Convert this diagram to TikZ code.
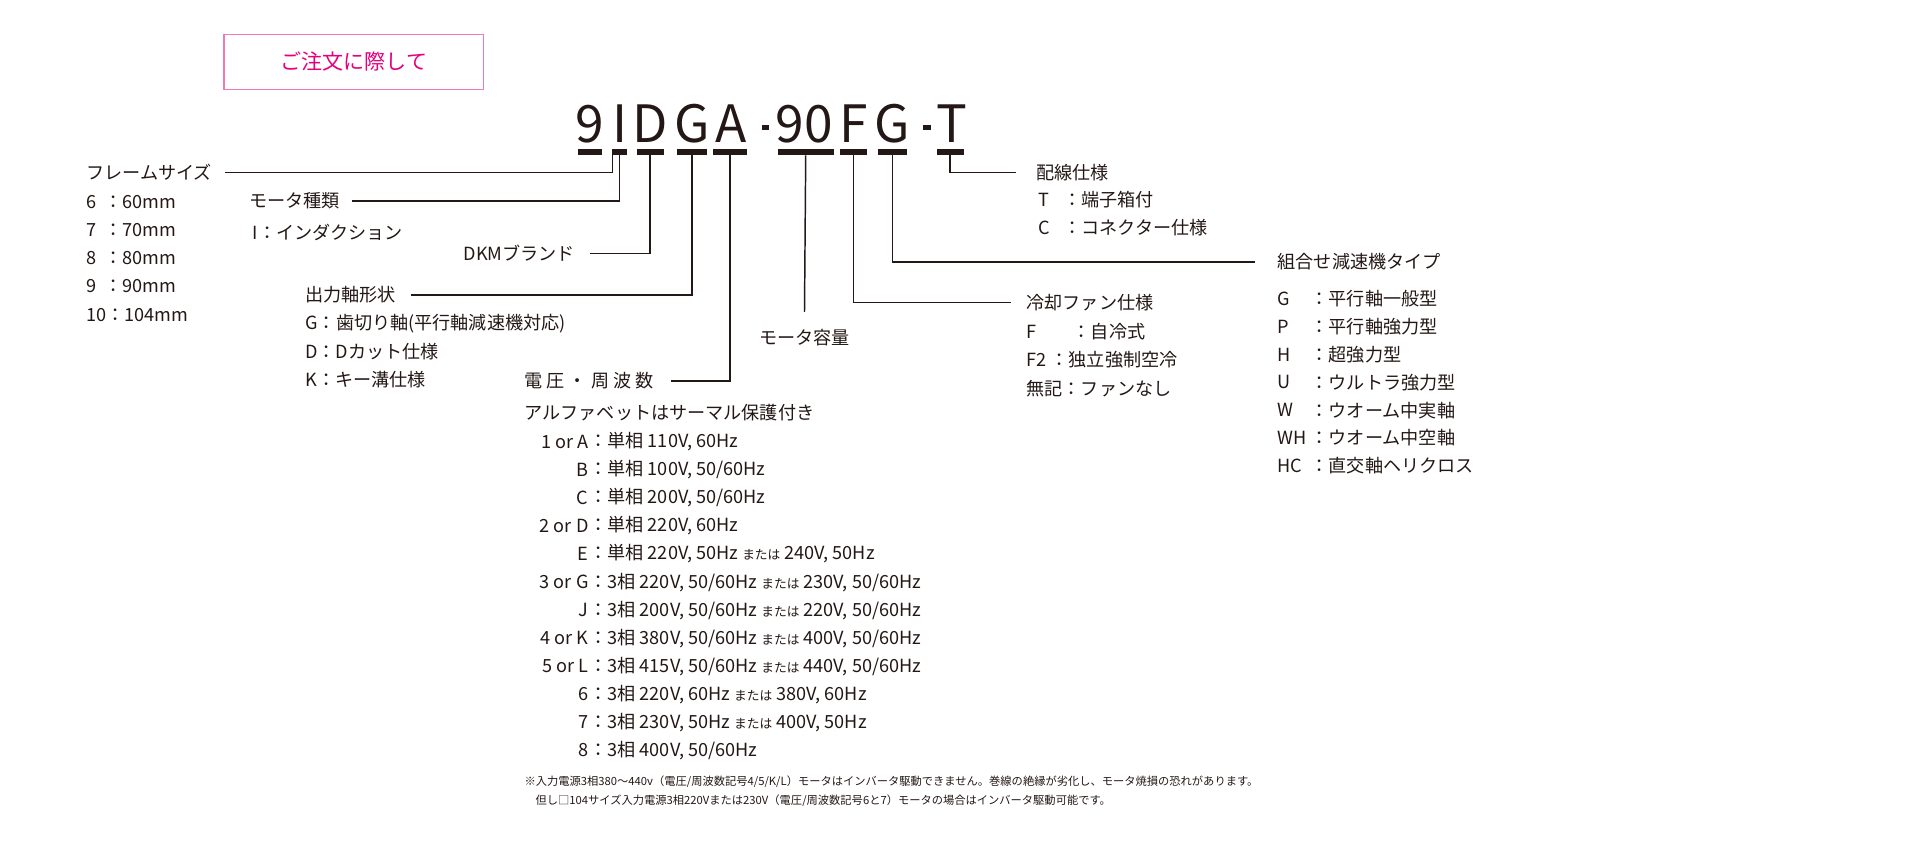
\documentclass[tikz,border=0pt]{standalone}
\usepackage{fontspec}
\setmainfont{Noto Sans CJK JP}
\usetikzlibrary{positioning}
\definecolor{ink}{HTML}{231815}
\definecolor{rose}{HTML}{E4007F}
\definecolor{roseline}{HTML}{F07AB8}
\tikzset{
  lbl/.style={anchor=west, inner sep=0pt, text=ink, font=\fontsize{7.4}{8}\selectfont},
  key/.style={anchor=east, inner sep=0pt, text=ink, font=\fontsize{7.4}{8}\selectfont},
  code/.style={inner sep=0pt, text=ink, font=\fontsize{21}{22}\selectfont},
  bar/.style={fill=ink, inner sep=0pt, minimum height=2.4pt},
  wire/.style={draw=ink, line width=0.6pt}
}
\newcommand{\mata}{{\fontsize{5.2}{6}\selectfont または}}
\begin{document}
\begin{tikzpicture}[x=0.5pt, y=-0.5pt]
\useasboundingbox (0,0) rectangle (1568,694);

% title box
\node (title)[draw=roseline, line width=0.5pt, minimum width=106pt, minimum height=22.5pt,
  text=rose, font=\fontsize{8.6}{9}\selectfont] at (289,50.5){ご注文に際して};

% model code
\node (c9)[code] at (482,101){9};
\node (cI)[code] at (506,101){I};
\node (cD)[code] at (531,101){D};
\node (cG)[code] at (565,101){G};
\node (cA)[code] at (597,101){A};
\node (cd1)[bar, minimum width=3pt, minimum height=2pt] at (625,104){};
\node (c90)[code] at (657,101){90};
\node (cF)[code] at (697,101){F};
\node (cG2)[code] at (729,101){G};
\node (cd2)[bar, minimum width=3pt, minimum height=2pt] at (757,104){};
\node (cT)[code] at (777,101){T};

\node (b9)[bar, minimum width=10pt] at (482,124){};
\node (bI)[bar, minimum width=6pt] at (506,124){};
\node (bD)[bar, minimum width=11pt] at (531,124){};
\node (bG)[bar, minimum width=12pt] at (565,124){};
\node (bA)[bar, minimum width=14pt] at (596,124){};
\node (b90)[bar, minimum width=23pt] at (658,124){};
\node (bF)[bar, minimum width=11pt] at (697,124){};
\node (bG2)[bar, minimum width=12pt] at (729,124){};
\node (bT)[bar, minimum width=11pt] at (776,124){};

% frame size
\node (size)[lbl] at (70,141){フレームサイズ};
\node (s6)[lbl] at (70,165){6\ \ ：60mm};
\node (s7)[lbl] at (70,188){7\ \ ：70mm};
\node (s8)[lbl] at (70,211){8\ \ ：80mm};
\node (s9)[lbl] at (70,234){9\ \ ：90mm};
\node (s10)[lbl] at (70,257){10：104mm};
\draw[wire] ([xshift=5]size.east) -| ([xshift=9]b9.south);

% motor type
\node (mtype)[lbl] at (203,164){モータ種類};
\node (mI)[lbl] at (206,190){I：インダクション};
\draw[wire] ([xshift=5]mtype.east) -| (bI.south);

% brand
\node (brand)[key] at (470,207){DKMブランド};
\draw[wire] ([xshift=6]brand.east) -| (bD.south);

% shaft
\node (shaft)[lbl] at (249,241){出力軸形状};
\node (shG)[lbl] at (249,264){G：歯切り軸(平行軸減速機対応)};
\node (shD)[lbl] at (249,287){D：Dカット仕様};
\node (shK)[lbl] at (249,310){K：キー溝仕様};
\draw[wire] ([xshift=6]shaft.east) -| (bG.south);

% voltage
\node (volt)[lbl] at (428,311){電 圧 ・ 周 波 数};
\draw[wire] ([xshift=7]volt.east) -| (bA.south);
\node (vnote)[lbl] at (428,337){アルファベットはサーマル保護付き};
\foreach \k/\v [count=\i] in {
  1 or A/{単相 110V, 60Hz},
  B/{単相 100V, 50/60Hz},
  C/{単相 200V, 50/60Hz},
  2 or D/{単相 220V, 60Hz},
  E/{単相 220V, 50Hz \mata\ 240V, 50Hz},
  3 or G/{3相 220V, 50/60Hz \mata\ 230V, 50/60Hz},
  J/{3相 200V, 50/60Hz \mata\ 220V, 50/60Hz},
  4 or K/{3相 380V, 50/60Hz \mata\ 400V, 50/60Hz},
  5 or L/{3相 415V, 50/60Hz \mata\ 440V, 50/60Hz},
  6/{3相 220V, 60Hz \mata\ 380V, 60Hz},
  7/{3相 230V, 50Hz \mata\ 400V, 50Hz},
  8/{3相 400V, 50/60Hz}}{
  \node (vk\i)[key] at (481,338+22.9*\i){\k};
  \node (vv\i)[lbl] at (481,338+22.9*\i){：\v};
}

% capacity
\node (cap)[lbl, anchor=center] at (657,276){モータ容量};
\draw[wire] (b90.south) -- ([yshift=7]cap.north);

% fan
\node (fan)[lbl] at (838,247){冷却ファン仕様};
\node (fF)[lbl] at (838,271){F\hspace{2em}：自冷式};
\node (fF2)[lbl] at (838,294){F2\ ：独立強制空冷};
\node (fN)[lbl] at (838,317){無記：ファンなし};
\draw[wire] (bF.south) |- ([xshift=-6]fan.west);

% gear type
\node (gear)[lbl] at (1043,214){組合せ減速機タイプ};
\foreach \k/\v [count=\i] in {G/平行軸一般型, P/平行軸強力型, H/超強力型, U/ウルトラ強力型,
  W/ウオーム中実軸, WH/ウオーム中空軸, HC/直交軸ヘリクロス}{
  \node (gk\i)[lbl] at (1043,221+22.8*\i){\k};
  \node (gv\i)[lbl] at (1070,221+22.8*\i){：\v};
}
\draw[wire] (bG2.south) |- ([xshift=-9]gear.west);

% wiring
\node (wir)[lbl] at (846,141){配線仕様};
\node (wT)[lbl] at (848,163){T};
\node (wTv)[lbl] at (868,163){：端子箱付};
\node (wC)[lbl] at (848,186){C};
\node (wCv)[lbl] at (868,186){：コネクター仕様};
\draw[wire] (bT.south) |- ([xshift=-8]wir.west);

% footnote
\node (fn1)[lbl, font=\fontsize{4.6}{5}\selectfont] at (428,638){※入力電源3相380～440v（電圧/周波数記号4/5/K/L）モータはインバータ駆動できません。巻線の絶縁が劣化し、モータ焼損の恐れがあります。};
\node (fn2)[lbl, font=\fontsize{4.6}{5}\selectfont] at (437,654){但し□104サイズ入力電源3相220Vまたは230V（電圧/周波数記号6と7）モータの場合はインバータ駆動可能です。};
\end{tikzpicture}
\end{document}
